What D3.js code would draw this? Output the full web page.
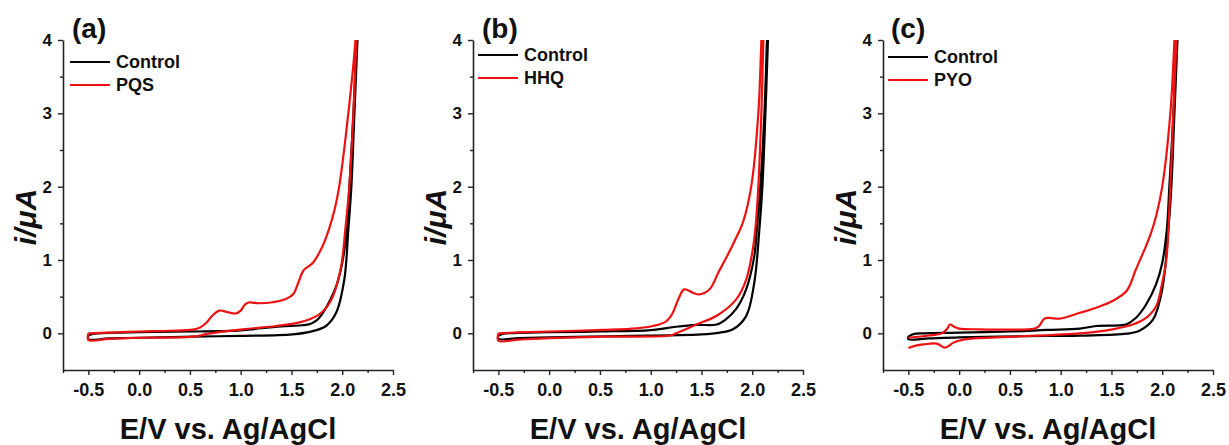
<!DOCTYPE html>
<html>
<head>
<meta charset="utf-8">
<script src="https://cdn.jsdelivr.net/npm/d3@7"></script>
<style>
  html, body { margin: 0; padding: 0; background: #fff; }
  svg { display: block; }
  text { font-family: Arial, "Liberation Sans", sans-serif; font-weight: bold; fill: #111; }
</style>
</head>
<body>
<svg id="chart" width="1229" height="445"></svg>
<script>
// Cyclic voltammograms: potential E (V vs. Ag/AgCl) against current i (µA).
// Each scan is stored as two branches running from -0.5 V up to the vertex.

// Panel (a): control vs PQS
const controlA_upper = [[-0.5,-0.03],[-0.45,-0.005],[-0.3,0.005],[0,0.015],[0.5,0.025],[1.0,0.04],[1.2,0.07],[1.4,0.095],[1.6,0.11],[1.68,0.125],[1.75,0.18],[1.81,0.28],[1.88,0.45],[1.94,0.64],[2.0,0.96],[2.045,1.41],[2.07,2.0],[2.11,3.0],[2.14,4.0],[2.15,4.4]];
const controlA_lower = [[-0.5,-0.08],[-0.3,-0.07],[0,-0.06],[0.53,-0.045],[1.0,-0.035],[1.51,-0.015],[1.71,0.03],[1.84,0.1],[1.94,0.28],[2.02,0.73],[2.06,1.41],[2.09,2.0],[2.12,3.0],[2.15,4.0],[2.16,4.4]];
const pqs_upper = [[-0.5,0.0],[-0.3,0.01],[0,0.025],[0.3,0.035],[0.53,0.05],[0.6,0.08],[0.66,0.14],[0.72,0.24],[0.79,0.31],[0.87,0.29],[0.95,0.27],[1.0,0.31],[1.04,0.39],[1.08,0.42],[1.18,0.41],[1.3,0.42],[1.45,0.47],[1.52,0.54],[1.57,0.7],[1.62,0.86],[1.71,0.96],[1.8,1.17],[1.87,1.42],[1.93,1.72],[1.97,2.0],[2.06,3.0],[2.13,4.0],[2.14,4.4]];
const pqs_lower = [[-0.5,-0.09],[-0.3,-0.075],[0,-0.06],[0.53,-0.045],[0.7,0.0],[1.02,0.055],[1.35,0.1],[1.58,0.15],[1.76,0.245],[1.85,0.36],[1.91,0.51],[1.99,0.92],[2.03,1.41],[2.07,2.0],[2.11,3.0],[2.14,4.0],[2.15,4.4]];

// Panel (b): control vs HHQ
const controlB_upper = [[-0.5,-0.03],[-0.45,-0.005],[-0.3,0.005],[0,0.015],[0.5,0.025],[1.0,0.045],[1.25,0.09],[1.45,0.115],[1.65,0.12],[1.74,0.19],[1.84,0.33],[1.94,0.6],[2.02,1.05],[2.045,1.41],[2.08,2.0],[2.12,3.0],[2.145,4.0],[2.155,4.4]];
const controlB_lower = [[-0.5,-0.075],[-0.3,-0.065],[0,-0.055],[0.6,-0.04],[1.19,-0.027],[1.5,-0.015],[1.68,0.01],[1.81,0.055],[1.94,0.235],[2.02,0.69],[2.07,1.41],[2.1,2.0],[2.13,3.0],[2.155,4.0],[2.165,4.4]];
const hhq_upper = [[-0.5,0.0],[-0.3,0.012],[0,0.025],[0.53,0.046],[0.86,0.068],[1.02,0.1],[1.15,0.16],[1.21,0.26],[1.28,0.49],[1.33,0.6],[1.42,0.55],[1.48,0.53],[1.58,0.6],[1.67,0.84],[1.74,1.02],[1.83,1.27],[1.91,1.52],[1.99,2.0],[2.06,3.0],[2.09,4.0],[2.1,4.4]];
const hhq_lower = [[-0.5,-0.1],[-0.3,-0.085],[0,-0.065],[0.53,-0.045],[1.19,-0.03],[1.25,0.0],[1.45,0.12],[1.65,0.24],[1.84,0.46],[1.94,0.73],[2.0,1.1],[2.03,1.41],[2.06,2.0],[2.09,3.0],[2.11,4.0],[2.12,4.4]];

// Panel (c): control vs PYO
const controlC_upper = [[-0.5,-0.045],[-0.45,-0.01],[-0.35,0.0],[0,0.01],[0.5,0.025],[0.86,0.046],[1.19,0.064],[1.35,0.1],[1.65,0.125],[1.74,0.21],[1.84,0.39],[1.94,0.67],[2.0,0.96],[2.045,1.41],[2.07,2.0],[2.11,3.0],[2.14,4.0],[2.15,4.4]];
const controlC_lower = [[-0.5,-0.08],[-0.3,-0.07],[0,-0.055],[0.6,-0.04],[1.19,-0.03],[1.65,-0.005],[1.78,0.04],[1.91,0.19],[2.0,0.6],[2.06,1.41],[2.09,2.0],[2.12,3.0],[2.15,4.0],[2.16,4.4]];
const pyo_upper = [[-0.5,-0.06],[-0.3,-0.03],[-0.17,0.0],[-0.12,0.06],[-0.09,0.12],[-0.05,0.09],[0.0,0.065],[0.2,0.055],[0.5,0.05],[0.73,0.06],[0.78,0.09],[0.84,0.2],[0.89,0.21],[0.99,0.2],[1.19,0.28],[1.35,0.35],[1.51,0.44],[1.65,0.58],[1.74,0.87],[1.84,1.19],[1.89,1.37],[1.94,1.6],[2.0,2.0],[2.08,3.0],[2.12,4.0],[2.13,4.4]];
const pyo_lower = [[-0.5,-0.2],[-0.42,-0.165],[-0.35,-0.15],[-0.22,-0.14],[-0.14,-0.195],[-0.1,-0.17],[-0.06,-0.13],[0.07,-0.08],[0.53,-0.045],[1.19,0.0],[1.51,0.055],[1.71,0.12],[1.84,0.21],[1.94,0.37],[2.0,0.69],[2.04,1.0],[2.08,2.0],[2.11,3.0],[2.14,4.0],[2.15,4.4]];

// Axis ticks
const xMajorTicks = [-0.5, 0.0, 0.5, 1.0, 1.5, 2.0, 2.5];
const xMinorTicks = [-0.75, -0.25, 0.25, 0.75, 1.25, 1.75, 2.25];
const yMajorTicks = [0, 1, 2, 3, 4];
const yMinorTicks = [0.5, 1.5, 2.5, 3.5];

const xLabel = "E/V vs. Ag/AgCl";
const yLabel = "i/\u03bcA";

const panels = [
  { tag: "(a)", offset: 0, legendY: 62, legendX: 70, labelX: 72,
    series: [
      { name: "Control", color: "#000000", upper: controlA_upper, lower: controlA_lower, closed: true },
      { name: "PQS", color: "#ee1111", upper: pqs_upper, lower: pqs_lower, closed: true }
    ] },
  { tag: "(b)", offset: 410, legendY: 55, legendX: 68, labelX: 72,
    series: [
      { name: "Control", color: "#000000", upper: controlB_upper, lower: controlB_lower, closed: true },
      { name: "HHQ", color: "#ee1111", upper: hhq_upper, lower: hhq_lower, closed: true }
    ] },
  { tag: "(c)", offset: 820, legendY: 57, legendX: 68, labelX: 71,
    series: [
      { name: "Control", color: "#000000", upper: controlC_upper, lower: controlC_lower, closed: true },
      { name: "PYO", color: "#ee1111", upper: pyo_upper, lower: pyo_lower, closed: false }
    ] }
];

const svg = d3.select("#chart");
const plot = { left: 63, right: 393, top: 40, bottom: 370 };

const x = d3.scaleLinear().domain([-0.75, 2.5]).range([plot.left, plot.right]);
const y = d3.scaleLinear().domain([-0.5, 4]).range([plot.bottom, plot.top]);

const line = d3.line()
  .x(d => x(d[0]))
  .y(d => y(d[1]))
  .curve(d3.curveCatmullRom.alpha(0.5));

panels.forEach((p, pi) => {
  const g = svg.append("g").attr("transform", `translate(${p.offset},0)`);

  const clipId = "clip" + pi;
  g.append("clipPath").attr("id", clipId)
    .append("rect")
    .attr("x", plot.left).attr("y", plot.top)
    .attr("width", plot.right - plot.left).attr("height", plot.bottom - plot.top);

  // scans
  const curves = g.append("g").attr("clip-path", `url(#${clipId})`);
  p.series.forEach(s => {
    const loop = s.upper.concat(s.lower.slice().reverse());
    if (s.closed) loop.push(s.upper[0]);
    curves.append("path")
      .attr("d", line(loop))
      .attr("fill", "none")
      .attr("stroke", s.color)
      .attr("stroke-width", 2.2)
      .attr("stroke-linejoin", "round");
  });

  // bottom axis
  const fmt = d => d.toFixed(1);
  const xAxis = g.append("g").attr("transform", `translate(0,${plot.bottom})`)
    .call(d3.axisBottom(x).tickValues(xMajorTicks).tickFormat(fmt).tickSize(5).tickSizeOuter(0).tickPadding(8));
  g.append("g").attr("transform", `translate(0,${plot.bottom})`)
    .call(d3.axisBottom(x).tickValues(xMinorTicks).tickFormat("").tickSize(3).tickSizeOuter(0))
    .select(".domain").remove();

  // left axis
  const yAxis = g.append("g").attr("transform", `translate(${plot.left},0)`)
    .call(d3.axisLeft(y).tickValues(yMajorTicks).tickFormat(d3.format("d")).tickSize(5).tickSizeOuter(0).tickPadding(6));
  g.append("g").attr("transform", `translate(${plot.left},0)`)
    .call(d3.axisLeft(y).tickValues(yMinorTicks).tickFormat("").tickSize(3).tickSizeOuter(0))
    .select(".domain").remove();

  g.selectAll(".domain").attr("stroke", "#222").attr("stroke-width", 1.6);
  g.selectAll(".tick line").attr("stroke", "#222").attr("stroke-width", 1.4);
  xAxis.selectAll("text").attr("font-size", 18).attr("font-family", null).attr("fill", "#111");
  yAxis.selectAll("text").attr("font-size", 17).attr("font-family", null).attr("fill", "#111");

  // axis titles
  g.append("text")
    .attr("x", (plot.left + plot.right) / 2)
    .attr("y", 439)
    .attr("text-anchor", "middle")
    .attr("font-size", 29)
    .text(xLabel);

  g.append("text")
    .attr("transform", `translate(36,${(plot.top + plot.bottom) / 2 + 12}) rotate(-90)`)
    .attr("text-anchor", "middle")
    .attr("font-size", 30)
    .attr("font-style", "italic")
    .text(yLabel);

  // panel tag
  g.append("text")
    .attr("x", p.labelX)
    .attr("y", 38)
    .attr("font-size", 28)
    .text(p.tag);

  // legend
  p.series.forEach((s, si) => {
    const ly = p.legendY + si * 23;
    g.append("line")
      .attr("x1", p.legendX).attr("x2", p.legendX + 40)
      .attr("y1", ly).attr("y2", ly)
      .attr("stroke", s.color).attr("stroke-width", 2);
    g.append("text")
      .attr("x", p.legendX + 46)
      .attr("y", ly)
      .attr("dy", "0.35em")
      .attr("font-size", 18)
      .text(s.name);
  });
});
</script>
</body>
</html>
